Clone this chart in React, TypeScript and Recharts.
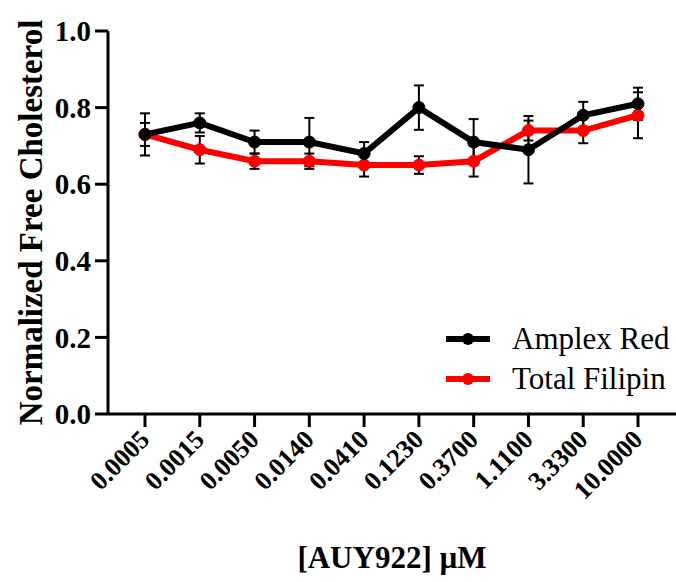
import React from 'react';
import { LineChart, Line, XAxis, YAxis, ErrorBar, Legend, Label } from 'recharts';

const CONCENTRATIONS = ['0.0005', '0.0015', '0.0050', '0.0140', '0.0410', '0.1230', '0.3700', '1.1100', '3.3300', '10.0000'];
const AMPLEX_RED = [0.73, 0.76, 0.71, 0.71, 0.68, 0.8, 0.71, 0.69, 0.78, 0.81];
const AMPLEX_RED_SD = [0.055, 0.025, 0.03, 0.063, 0.03, 0.058, 0.06, 0.088, 0.035, 0.042];
const TOTAL_FILIPIN = [0.73, 0.69, 0.66, 0.66, 0.65, 0.65, 0.66, 0.74, 0.74, 0.78];
const TOTAL_FILIPIN_SD = [0.03, 0.036, 0.02, 0.02, 0.03, 0.023, 0.04, 0.026, 0.033, 0.06];
const Y_TICKS = [0, 0.2, 0.4, 0.6, 0.8, 1.0];

const SERIES = [
  { key: 'amplex', err: 'amplexErr', name: 'Amplex Red', color: '#000000' },
  { key: 'filipin', err: 'filipinErr', name: 'Total Filipin', color: '#ff0000' },
];

const data = CONCENTRATIONS.map((conc, i) => ({
  conc,
  amplex: AMPLEX_RED[i],
  amplexErr: AMPLEX_RED_SD[i],
  filipin: TOTAL_FILIPIN[i],
  filipinErr: TOTAL_FILIPIN_SD[i],
}));

const FONT = "'Liberation Serif', Tinos, 'DejaVu Serif', serif";

function XTick({ x, y, payload }: any) {
  const ty = y + 8;
  return (
    <text
      x={x}
      y={ty}
      transform={`rotate(-45 ${x} ${ty})`}
      textAnchor="end"
      dominantBaseline="central"
      style={{ fontFamily: FONT, fontWeight: 'bold', fontSize: 26 }}
      fill="#000"
    >
      {payload.value}
    </text>
  );
}

function YTitle({ viewBox }: any) {
  const cx = 31;
  const cy = viewBox.y + viewBox.height / 2;
  return (
    <text
      x={cx}
      y={cy}
      transform={`rotate(-90 ${cx} ${cy})`}
      textAnchor="middle"
      dominantBaseline="central"
      style={{ fontFamily: FONT, fontWeight: 'bold', fontSize: 33 }}
      fill="#000"
    >
      Normalized Free Cholesterol
    </text>
  );
}

function LegendBox() {
  return (
    <div style={{ fontFamily: FONT, fontSize: 31, color: '#000' }}>
      {SERIES.map((s) => (
        <div key={s.key} style={{ display: 'flex', alignItems: 'center', height: 40 }}>
          <svg width={44} height={40} style={{ marginRight: 22 }}>
            <line x1={0} y1={20} x2={44} y2={20} stroke={s.color} strokeWidth={6} />
            <circle cx={22} cy={20} r={6} fill={s.color} />
          </svg>
          <span style={{ lineHeight: '40px' }}>{s.name}</span>
        </div>
      ))}
    </div>
  );
}

export default function App() {
  // draw red first so the black series sits on top
  const drawOrder = [SERIES[1], SERIES[0]];
  return (
    <div style={{ position: 'fixed', left: 0, top: 0, background: '#fff' }}>
      <LineChart width={676} height={582} data={data} margin={{ top: 31, right: 0, bottom: 0, left: 0 }}>
        <XAxis
          dataKey="conc"
          height={168}
          padding={{ left: 37, right: 38 }}
          interval={0}
          tickSize={13}
          tickMargin={0}
          tick={<XTick />}
          axisLine={{ stroke: '#000', strokeWidth: 3 }}
          tickLine={{ stroke: '#000', strokeWidth: 3 }}
        >
          <Label
            value="[AUY922] µM"
            position="insideBottom"
            offset={14}
            style={{ fontFamily: FONT, fontWeight: 'bold', fontSize: 31, fill: '#000' }}
          />
        </XAxis>
        <YAxis
          width={108}
          domain={[0, 1]}
          ticks={Y_TICKS}
          tickFormatter={(v: number) => v.toFixed(1)}
          tickSize={13}
          tickMargin={4}
          tick={{ style: { fontFamily: FONT, fontWeight: 'bold', fontSize: 29 }, fill: '#000' }}
          axisLine={{ stroke: '#000', strokeWidth: 3 }}
          tickLine={{ stroke: '#000', strokeWidth: 3 }}
        >
          <Label content={<YTitle />} />
        </YAxis>
        <Legend
          layout="horizontal"
          verticalAlign="middle"
          align="center"
          content={<LegendBox />}
          wrapperStyle={{ position: 'absolute', left: 446, top: 319, width: 'auto' }}
        />
        {drawOrder.map((s) => (
          <Line
            key={s.key}
            dataKey={s.key}
            name={s.name}
            type="linear"
            stroke={s.color}
            strokeWidth={6}
            dot={{ r: 6, fill: s.color, stroke: s.color, strokeWidth: 1 }}
            isAnimationActive={false}
          >
            <ErrorBar dataKey={s.err} direction="y" width={5} stroke="#000" strokeWidth={2} isAnimationActive={false} />
          </Line>
        ))}
      </LineChart>
    </div>
  );
}
